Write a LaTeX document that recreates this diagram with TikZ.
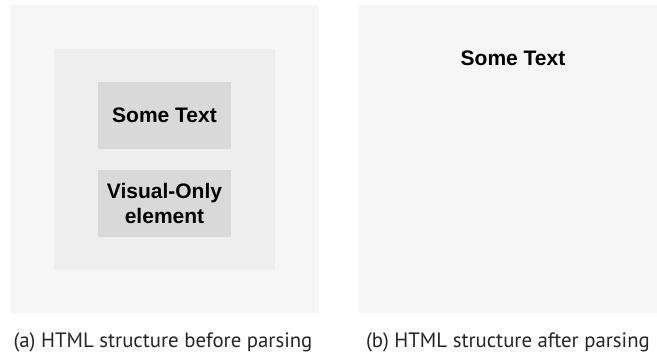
\documentclass[tikz,border=0pt]{standalone}
\usepackage{fontspec}
\setmainfont{PT Sans}
\newfontfamily\boxfont{Liberation Sans}
\definecolor{outerbg}{HTML}{F6F6F6}
\definecolor{innerbg}{HTML}{EEEEEE}
\definecolor{boxbg}{HTML}{D9D9D9}
\begin{document}
\begin{tikzpicture}[x=1pt,y=-1pt,
  panel/.style={fill=outerbg, draw=none},
  container/.style={fill=innerbg, draw=none},
  elem/.style={fill=boxbg, draw=none},
  lbl/.style={font=\boxfont\fontsize{21}{25}\selectfont\bfseries, align=center, text=black},
  captext/.style={font=\fontsize{20.8}{24}\selectfont, text=black!85, anchor=base}]
\useasboundingbox (0,0) rectangle (657,358);
\fill[white] (0,0) rectangle (657,358);
% left panel
\path[panel] (10,5) rectangle (319,313);
\path[container] (54,49) rectangle (275,270);
\path[elem] (98,82) rectangle (231,149);
\node[lbl] (t1) at (164.5,115.5) {Some Text};
\path[elem] (98,170) rectangle (231,237);
\node[lbl] (t2) at (164.5,203.5) {Visual-Only\\element};
\node[captext] (ca) at (163,348) {(a) HTML structure before parsing};
% right panel
\path[panel] (359,5) rectangle (657,313);
\node[lbl] (t3) at (513,58) {Some Text};
\node[captext] (cb) at (508,348) {(b) HTML structure after parsing};
\end{tikzpicture}
\end{document}
